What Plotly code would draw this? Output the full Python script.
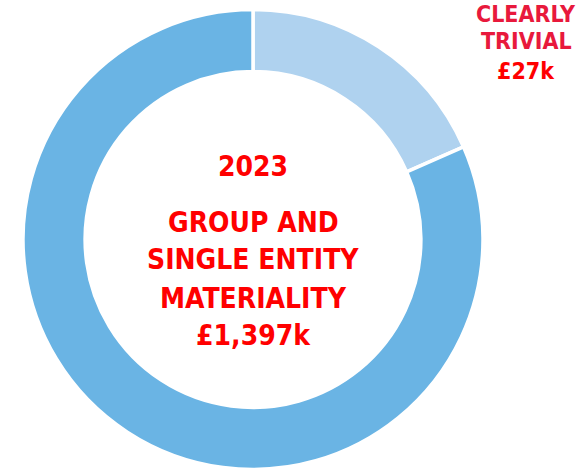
import plotly.graph_objects as go

# Data
slice_labels = ["Clearly trivial", "Group and single entity materiality"]
slice_values = [18.4, 81.6]
slice_colors = ["#AFD2EF", "#6AB4E4"]

center_lines = ["2023", "GROUP AND", "SINGLE ENTITY", "MATERIALITY", "£1,397k"]
center_y_px = [166, 222, 259, 298, 335]
side_lines = ["CLEARLY", "TRIVIAL", "£27k"]
side_colors = ["#E8193C", "#E8193C", "#FF0000"]
side_y_px = [14, 41, 71]

W, H = 588, 475
FONT = "DejaVu Sans Condensed, DejaVu Sans, sans-serif"

fig = go.Figure(go.Pie(
    labels=slice_labels,
    values=slice_values,
    hole=0.73,
    sort=False,
    direction="clockwise",
    rotation=0,
    textinfo="none",
    hoverinfo="label",
    marker=dict(colors=slice_colors, line=dict(color="white", width=3.5)),
    domain=dict(x=[23 / W, 483 / W], y=[5.5 / H, 465.5 / H]),
    showlegend=False,
))

annotations = []
for txt, ypx in zip(center_lines, center_y_px):
    annotations.append(dict(
        x=253 / W, y=1 - ypx / H, xref="paper", yref="paper",
        text=f"<b>{txt}</b>", showarrow=False, xanchor="center", yanchor="middle",
        font=dict(family=FONT, size=28, color="#FF0000"),
    ))
for txt, ypx, col in zip(side_lines, side_y_px, side_colors):
    annotations.append(dict(
        x=526 / W, y=1 - ypx / H, xref="paper", yref="paper",
        text=f"<b>{txt}</b>", showarrow=False, xanchor="center", yanchor="middle",
        font=dict(family=FONT, size=23, color=col),
    ))

fig.update_layout(
    width=W, height=H,
    margin=dict(l=0, r=0, t=0, b=0),
    paper_bgcolor="white", plot_bgcolor="white",
    annotations=annotations,
)

fig.write_html("out.html")
